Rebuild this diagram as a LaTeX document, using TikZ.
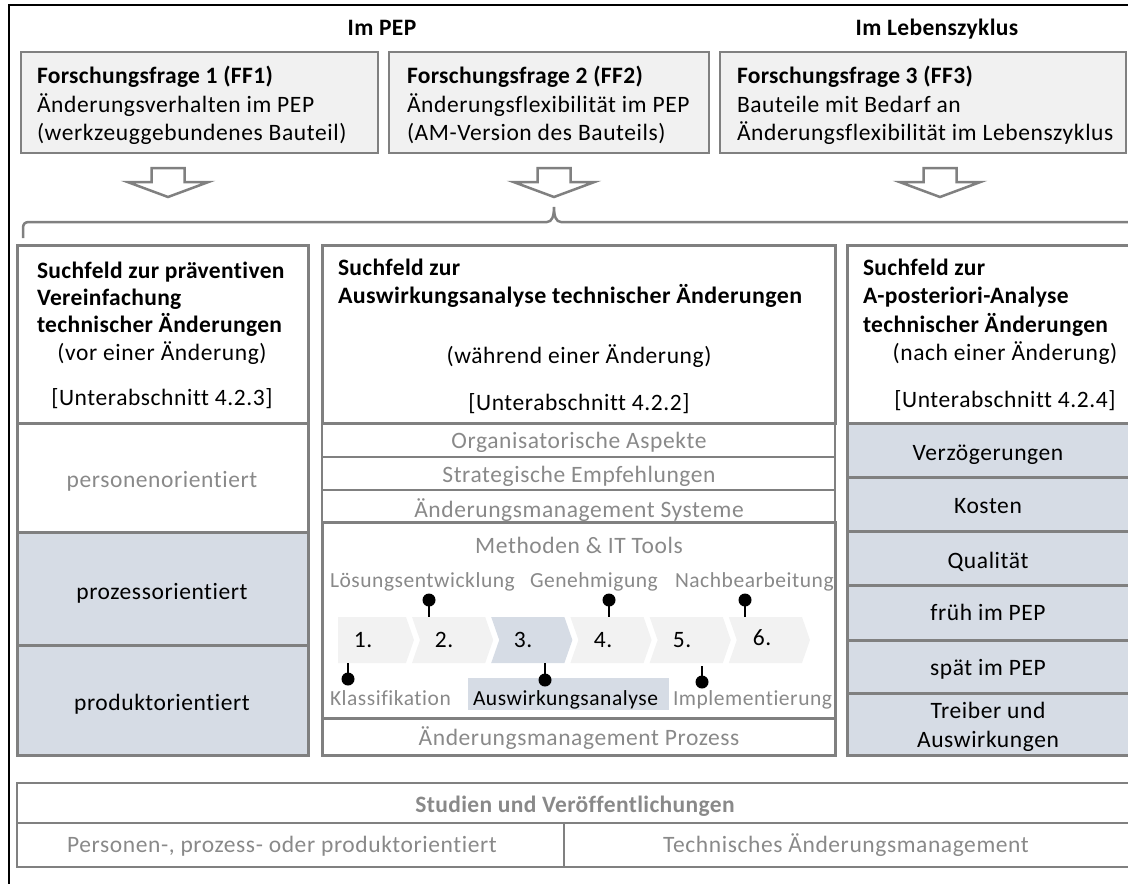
\documentclass[tikz,border=0pt]{standalone}
\usepackage{fontspec}
\usepackage{graphicx}
\setmainfont{Carlito}[Ligatures=NoCommon, UprightFeatures={LetterSpace=2.5}, BoldFeatures={LetterSpace=1.5}]
\usetikzlibrary{calc}

\definecolor{bordgray}{RGB}{128,128,128}
\definecolor{txtgray}{RGB}{137,137,137}
\definecolor{ffgray}{RGB}{241,241,241}
\definecolor{bluegray}{RGB}{214,220,229}
\definecolor{chevgray}{RGB}{242,242,242}

\tikzset{
  cell/.style={draw=bordgray, line width=2.5pt, inner sep=0pt, outer sep=0pt, anchor=north west},
  colcell/.style={cell, line width=3pt},
  ffbox/.style={cell, fill=ffgray},
  bluecell/.style={colcell, fill=bluegray},
  txt/.style={inner sep=0pt, outer sep=0pt, font=\fontsize{23.5}{28}\selectfont},
  bold/.style={txt, font=\fontsize{23.5}{28}\selectfont\bfseries},
  grey/.style={txt, text=txtgray},
  steplabel/.style={inner sep=0pt, outer sep=0pt, font=\fontsize{21.5}{26}\selectfont, text=txtgray},
  hollowarrow/.style={draw=bordgray, line width=2.5pt, fill=white, line join=miter},
  bracket/.style={draw=bordgray, line width=2.5pt},
  chevron/.style={fill=chevgray},
  chevronhl/.style={fill=bluegray},
  pinstem/.style={line width=2pt, draw=black},
  pinhead/.style={circle, fill=black, inner sep=0pt, minimum size=13pt},
}

% rectangular cell given by its corners (x1,y1) (x2,y2), y counted downwards
\newcommand\cellat[6]{\node[#1, minimum width={(#5-#3)*1pt}, minimum height={(#6-#4)*1pt}] (#2) at (#3,#4) {};}
% hollow block arrow pointing down, centre x, top y
\newcommand\hollowdown[2]{\draw[hollowarrow] (#1-16.5,#2) -- (#1+16.5,#2) -- (#1+16.5,#2+14) -- (#1+40.5,#2+14) -- (#1,#2+29) -- (#1-40.5,#2+14) -- (#1-16.5,#2+14) -- cycle;}

\begin{document}
\begin{tikzpicture}[x=1pt, y=-1pt]
\useasboundingbox (0,0) rectangle (1128,884);

% outer frame
\draw[black, line width=2pt] (9,884) -- (9,5) -- (1128,5);

% phase titles
\node[bold, anchor=base] (pep) at (382,35) {Im PEP};
\node[bold, anchor=base] (lz) at (937,35) {Im Lebenszyklus};

% research questions
\cellat{ffbox}{ff1}{21}{52}{378}{153}
\cellat{ffbox}{ff2}{389}{52}{709}{153}
\cellat{ffbox}{ff3}{720}{52}{1126}{153}

\node[bold, anchor=base west] (ff1a) at (37,83) {Forschungsfrage 1 (FF1)};
\node[txt, anchor=base west] (ff1b) at (37,112) {Änderungsverhalten im PEP};
\node[txt, anchor=base west] (ff1c) at (37,140) {(werkzeuggebundenes Bauteil)};

\node[bold, anchor=base west] (ff2a) at (407,83) {Forschungsfrage 2 (FF2)};
\node[txt, anchor=base west] (ff2b) at (407,112) {Änderungsflexibilität im PEP};
\node[txt, anchor=base west] (ff2c) at (407,140) {(AM-Version des Bauteils)};

\node[bold, anchor=base west] (ff3a) at (737,83) {Forschungsfrage 3 (FF3)};
\node[txt, anchor=base west] (ff3b) at (737,112) {Bauteile mit Bedarf an};
\node[txt, anchor=base west] (ff3c) at (737,140) {Änderungsflexibilität im Lebenszyklus};

% arrows into the search fields
\hollowdown{168}{168}
\hollowdown{554}{168}
\hollowdown{940}{168}

% bracket over the search fields
\draw[bracket] (23,238) -- (23,228) .. controls (23,224) and (25,222) .. (29,222)
  -- (547,222) .. controls (552,222) and (554,216) .. (554,207)
  .. controls (554,216) and (556,222) .. (561,222) -- (1130,222);

% ---------- left search field ----------
\cellat{colcell}{hdrL}{17}{245}{308}{423}
\cellat{colcell}{persL}{17}{423}{308}{532}
\cellat{bluecell}{prozL}{17}{532}{308}{645}
\cellat{bluecell}{prodL}{17}{645}{308}{755}

\node[bold, anchor=base west] (l1) at (37,278) {Suchfeld zur präventiven};
\node[bold, anchor=base west] (l2) at (37,305) {Vereinfachung};
\node[bold, anchor=base west] (l3) at (37,332) {technischer Änderungen};
\node[txt, anchor=base] (l4) at (162,360) {(vor einer Änderung)};
\node[txt, anchor=base] (l5) at (162,405) {[Unterabschnitt 4.2.3]};
\node[grey, anchor=base] (lp) at (162,487) {personenorientiert};
\node[txt, anchor=base] (lz2) at (162,599) {prozessorientiert};
\node[txt, anchor=base] (ld) at (162,710) {produktorientiert};

% ---------- middle search field ----------
\cellat{colcell}{hdrM}{322}{245}{835}{423}
\cellat{cell}{orgM}{322}{423}{835}{457}
\cellat{cell}{strM}{322}{457}{835}{490}
\cellat{cell}{amsM}{322}{490}{835}{522}
\cellat{colcell}{methM}{322}{522}{835}{718}
\cellat{colcell}{ampM}{322}{718}{835}{755}

\node[bold, anchor=base west] (m1) at (338,275) {Suchfeld zur};
\node[bold, anchor=base west] (m2) at (338,303) {\scalebox{1.02}[1]{Auswirkungsanalyse technischer Änderungen}};
\node[txt, anchor=base] (m3) at (579,363) {(während einer Änderung)};
\node[txt, anchor=base] (m4) at (579,410) {[Unterabschnitt 4.2.2]};
\node[grey, anchor=base] (mo) at (579,448) {Organisatorische Aspekte};
\node[grey, anchor=base] (ms) at (579,482) {Strategische Empfehlungen};
\node[grey, anchor=base] (ma) at (579,517) {Änderungsmanagement Systeme};
\node[grey, anchor=base] (mm) at (579,553) {Methoden \& IT Tools};
\node[grey, anchor=base] (mp) at (579,745) {Änderungsmanagement Prozess};

% process steps
\fill[chevron] (338,617) -- (406,617) -- (414,640) -- (406,663) -- (338,663) -- cycle;
\foreach \s/\st in {412/chevron, 491.2/chevronhl, 570.4/chevron, 649.6/chevron, 728.8/chevron}{
  \fill[\st] (\s,617) -- (\s+73.2,617) -- (\s+81.2,640) -- (\s+73.2,663) -- (\s,663) -- (\s+8,640) -- cycle;
}
\node[txt, anchor=base] (n1) at (363,647) {1.};
\node[txt, anchor=base] (n2) at (444,647) {2.};
\node[txt, anchor=base] (n3) at (523,647) {3.};
\node[txt, anchor=base] (n4) at (603,647) {4.};
\node[txt, anchor=base] (n5) at (682,647) {5.};
\node[txt, anchor=base] (n6) at (762,645) {6.};

% step labels above
\node[steplabel, anchor=base west] (t2) at (330,587) {Lösungsentwicklung};
\node[steplabel, anchor=base west] (t4) at (530,587) {Genehmigung};
\node[steplabel, anchor=base west] (t6) at (675,587) {Nachbearbeitung};

% highlighted step label below
\fill[bluegray] (468,678) rectangle (669,710);
\node[steplabel, anchor=base west] (b1) at (330,705) {Klassifikation};
\node[steplabel, text=black, anchor=base west] (b3) at (473,705) {Auswirkungsanalyse};
\node[steplabel, anchor=base west] (b5) at (673,705) {Implementierung};

% pins linking steps and labels
\coordinate (c2) at (429,617);
\coordinate (c4) at (609,617);
\coordinate (c6) at (745,617);
\coordinate (c1) at (348,663);
\coordinate (c3) at (545,663);
\coordinate (c5) at (702,666);
\node[pinhead] (p2) at (429,600) {};
\node[pinhead] (p4) at (609,600) {};
\node[pinhead] (p6) at (745,600) {};
\node[pinhead] (p1) at (348,679) {};
\node[pinhead] (p3) at (545,680) {};
\node[pinhead] (p5) at (702,682) {};
\foreach \a/\b in {p2/c2, p4/c4, p6/c6, p1/c1, p3/c3, p5/c5}
  \draw[pinstem] (\a.center) -- (\b);

% ---------- right search field ----------
\cellat{colcell}{hdrR}{847}{245}{1129}{423}
\cellat{bluecell}{r1}{847}{423}{1129}{477}
\cellat{bluecell}{r2}{847}{477}{1129}{531}
\cellat{bluecell}{r3}{847}{531}{1129}{585}
\cellat{bluecell}{r4}{847}{585}{1129}{640}
\cellat{bluecell}{r5}{847}{640}{1129}{693}
\cellat{bluecell}{r6}{847}{693}{1129}{755}

\node[bold, anchor=base west] (rh1) at (863,275) {Suchfeld zur};
\node[bold, anchor=base west] (rh2) at (863,303) {A-posteriori-Analyse};
\node[bold, anchor=base west] (rh3) at (863,332) {technischer Änderungen};
\node[txt, anchor=base] (rh4) at (1005,360) {(nach einer Änderung)};
\node[txt, anchor=base] (rh5) at (1005,407) {[Unterabschnitt 4.2.4]};
\node[txt, anchor=base] (rt1) at (988,460) {Verzögerungen};
\node[txt, anchor=base] (rt2) at (988,513) {Kosten};
\node[txt, anchor=base] (rt3) at (988,568) {Qualität};
\node[txt, anchor=base] (rt4) at (988,620) {früh im PEP};
\node[txt, anchor=base] (rt5) at (988,675) {spät im PEP};
\node[txt, anchor=base] (rt6) at (988,718) {Treiber und};
\node[txt, anchor=base] (rt7) at (988,747) {Auswirkungen};

% ---------- studies and publications ----------
\cellat{cell}{stud}{17}{783}{1129}{823}
\cellat{cell}{studL}{17}{823}{564}{867}
\cellat{cell}{studR}{564}{823}{1129}{867}
\node[grey, anchor=base, font=\fontsize{23.5}{28}\selectfont\bfseries] (st) at (575,812) {Studien und Veröffentlichungen};
\node[grey, anchor=base] (stl) at (282,852) {Personen-, prozess- oder produktorientiert};
\node[grey, anchor=base] (str) at (846,852) {Technisches Änderungsmanagement};
\end{tikzpicture}
\end{document}
